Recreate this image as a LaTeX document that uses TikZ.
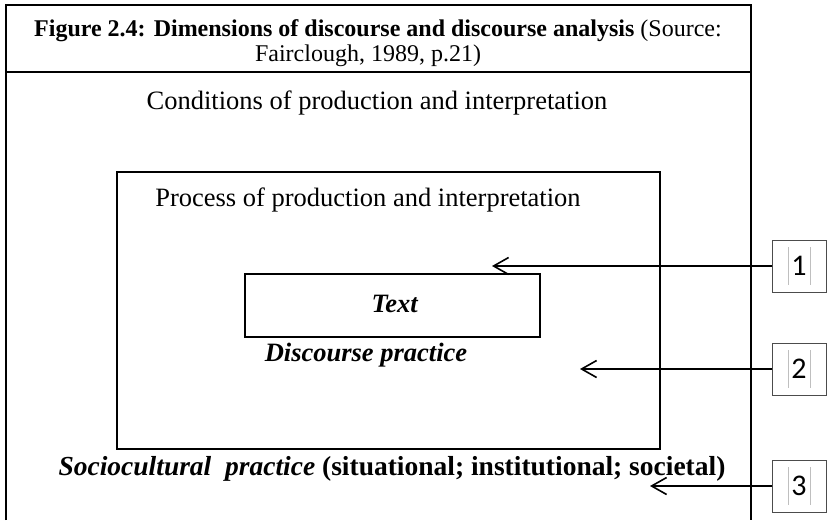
\documentclass[tikz,border=0pt]{standalone}
\usepackage{fontspec}
\setmainfont{Liberation Serif}
\newfontfamily\numfont{Carlito}
\usetikzlibrary{arrows.meta,calc}

\begin{document}
\begin{tikzpicture}[x=1pt,y=-1pt,
  frame/.style={draw=black,line width=2pt},
  boxnode/.style={frame,inner sep=0pt},
  numbox/.style={draw=black!70,line width=1pt,minimum width=54pt,minimum height=52pt,
    inner sep=0pt,font=\numfont\fontsize{30}{36}\selectfont},
  caret/.style={draw=black!25,line width=0.9pt},
  label/.style={inner sep=0pt,anchor=base},
  body/.style={font=\fontsize{26.5}{32}\selectfont},
  pointer/.style={line width=1.6pt,-{Straight Barb[length=15pt,width=17pt]}}
]
\useasboundingbox (0,0) rectangle (827,520);

% outer frame with its caption band (open at the bottom)
\draw[frame] (6,520) -- (6,5) -- (751,5) -- (751,520);
\draw[frame] (6,72) -- (751,72);

% caption
\node[label,font=\fontsize{24}{30}\selectfont] (cap1) at (378,36)
  {\textbf{Figure 2.4: Dimensions of discourse and discourse analysis} (Source:};
\node[label,font=\fontsize{24}{30}\selectfont] (cap2) at (368,61)
  {Fairclough, 1989, p.21)};

% nested boxes
\node[label,body] (cond) at (377,109) {Conditions of production and interpretation};
\node[boxnode,minimum width=543pt,minimum height=277pt] (proc) at (388.5,310.5) {};
\node[label,body] (proclbl) at (368,206) {Process of production and interpretation};
\node[boxnode,minimum width=295pt,minimum height=63pt] (text) at (392.5,305.5) {};
\node[label,body] (textlbl) at (395,312) {\textbf{\textit{Text}}};
\node[label,body] (disc) at (366,361) {\textbf{\textit{Discourse practice}}};
\node[label,font=\fontsize{27.5}{32}\selectfont] (socio) at (392,475)
  {\textbf{\textit{Sociocultural\ \ practice}} \textbf{(situational; institutional; societal)}};

% numbered markers and their pointers
\node[numbox] (n1) at (799,266) {1};
\node[numbox] (n2) at (799,369) {2};
\node[numbox] (n3) at (799,486) {3};
\foreach \n in {n1,n2,n3}{
  \draw[caret] ($(\n.center)+(-11,-19)$) -- ($(\n.center)+(-11,19)$);
  \draw[caret] ($(\n.center)+(11,-19)$) -- ($(\n.center)+(11,19)$);
}
\coordinate (t1) at (492,266);
\coordinate (t2) at (580,369);
\coordinate (t3) at (650,486);
\draw[pointer] (n1.west) -- (t1);
\draw[pointer] (n2.west) -- (t2);
\draw[pointer] (n3.west) -- (t3);
\end{tikzpicture}
\end{document}
